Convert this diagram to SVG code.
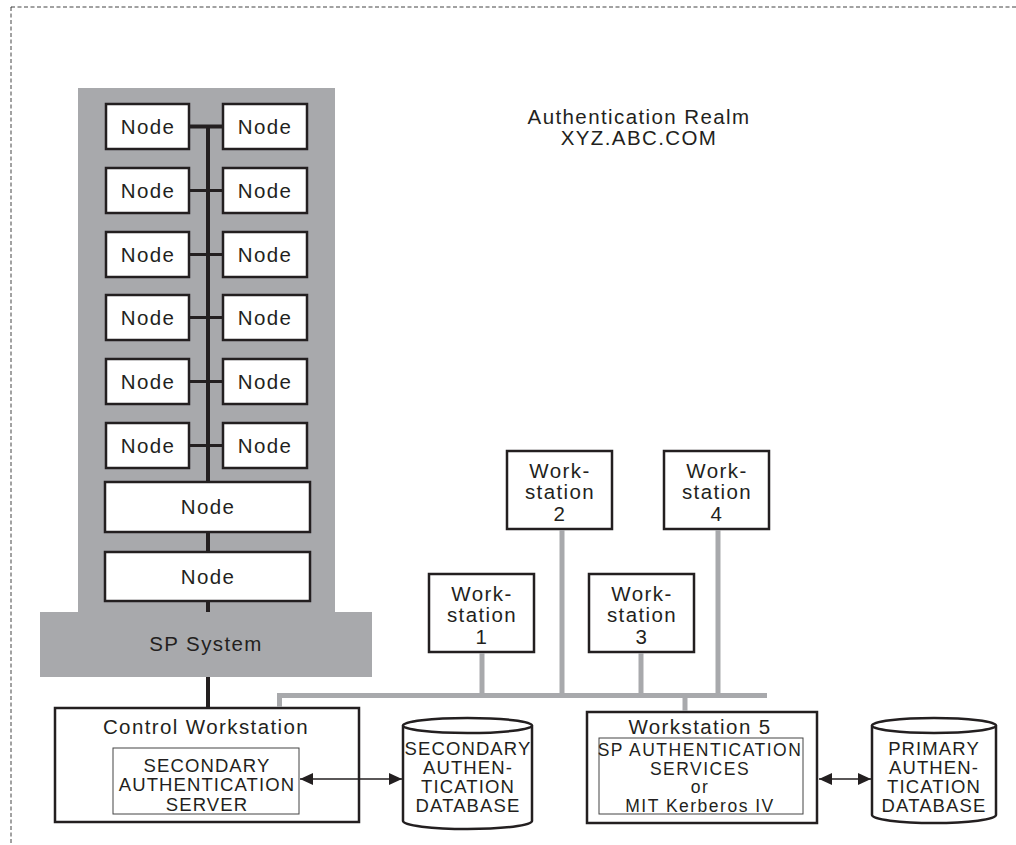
<svg xmlns="http://www.w3.org/2000/svg" width="1016" height="845" viewBox="0 0 1016 845">
<style>
.bx{fill:#fff;stroke:#231f20;stroke-width:2.5}
.ib{fill:#fff;stroke:#444;stroke-width:1}
.t{font-family:"Liberation Sans",Arial,sans-serif;font-size:20.5px;letter-spacing:1.4px;fill:#231f20;text-anchor:middle}
.s{font-family:"Liberation Sans",Arial,sans-serif;font-size:18.5px;letter-spacing:1.1px;fill:#231f20;text-anchor:middle}
.s2{font-family:"Liberation Sans",Arial,sans-serif;font-size:17.5px;letter-spacing:1.5px;fill:#231f20;text-anchor:middle}
.bk{stroke:#231f20;stroke-width:4;fill:none}
.bh{stroke:#231f20;stroke-width:3;fill:none}
.gr{stroke:#a8a9ac;stroke-width:5;fill:none}
.ar{stroke:#231f20;stroke-width:1.3;fill:none;marker-start:url(#ah);marker-end:url(#ah)}
.cy{fill:#fff;stroke:#231f20;stroke-width:2.5}
</style>
<defs>
<marker id="ah" viewBox="0 0 13 12" refX="13" refY="6" markerWidth="13" markerHeight="12" markerUnits="userSpaceOnUse" orient="auto-start-reverse">
<path d="M0,0 L13,6 L0,12 Z" fill="#231f20"/>
</marker>
</defs>
<rect x="11" y="7" width="1030" height="870" fill="none" stroke="#444" stroke-width="1" stroke-dasharray="4,2.5"/>

<g id="realm-label">
<text class="t" x="639" y="124">Authentication Realm</text>
<text class="t" x="639" y="145">XYZ.ABC.COM</text>
</g>

<g id="sp-system">
<rect x="78" y="88" width="257" height="530" fill="#a8a9ac"/>
<rect x="40" y="612" width="332" height="65" fill="#a8a9ac"/>
<text class="t" x="206" y="651">SP System</text>
</g>

<g id="node-1-l"><rect class="bx" x="106" y="104" width="83" height="45"/><text class="t" x="148" y="134">Node</text></g>
<g id="node-1-r"><rect class="bx" x="223" y="104" width="84" height="45"/><text class="t" x="265" y="134">Node</text></g>
<g id="node-2-l"><rect class="bx" x="106" y="168" width="83" height="45"/><text class="t" x="148" y="198">Node</text></g>
<g id="node-2-r"><rect class="bx" x="223" y="168" width="84" height="45"/><text class="t" x="265" y="198">Node</text></g>
<g id="node-3-l"><rect class="bx" x="106" y="232" width="83" height="45"/><text class="t" x="148" y="262">Node</text></g>
<g id="node-3-r"><rect class="bx" x="223" y="232" width="84" height="45"/><text class="t" x="265" y="262">Node</text></g>
<g id="node-4-l"><rect class="bx" x="106" y="295" width="83" height="45"/><text class="t" x="148" y="325">Node</text></g>
<g id="node-4-r"><rect class="bx" x="223" y="295" width="84" height="45"/><text class="t" x="265" y="325">Node</text></g>
<g id="node-5-l"><rect class="bx" x="106" y="359" width="83" height="45"/><text class="t" x="148" y="389">Node</text></g>
<g id="node-5-r"><rect class="bx" x="223" y="359" width="84" height="45"/><text class="t" x="265" y="389">Node</text></g>
<g id="node-6-l"><rect class="bx" x="106" y="423" width="83" height="45"/><text class="t" x="148" y="453">Node</text></g>
<g id="node-6-r"><rect class="bx" x="223" y="423" width="84" height="45"/><text class="t" x="265" y="453">Node</text></g>
<g id="node-wide-1"><rect class="bx" x="105" y="482" width="205" height="50"/><text class="t" x="208" y="514">Node</text></g>
<g id="node-wide-2"><rect class="bx" x="105" y="552" width="205" height="49"/><text class="t" x="208" y="584">Node</text></g>

<g id="ws1"><rect class="bx" x="429" y="574" width="105" height="78"/>
<text class="t" x="482" y="601">Work-</text><text class="t" x="482" y="622">station</text><text class="t" x="482" y="644">1</text></g>
<g id="ws2"><rect class="bx" x="507" y="451" width="105" height="78"/>
<text class="t" x="560" y="478">Work-</text><text class="t" x="560" y="499">station</text><text class="t" x="560" y="521">2</text></g>
<g id="ws3"><rect class="bx" x="589" y="574" width="105" height="78"/>
<text class="t" x="642" y="601">Work-</text><text class="t" x="642" y="622">station</text><text class="t" x="642" y="644">3</text></g>
<g id="ws4"><rect class="bx" x="664" y="451" width="105" height="78"/>
<text class="t" x="717" y="478">Work-</text><text class="t" x="717" y="499">station</text><text class="t" x="717" y="521">4</text></g>

<g id="control-workstation">
<rect class="bx" x="55" y="708" width="304" height="114"/>
<text class="t" x="206" y="734">Control Workstation</text>
<rect class="ib" x="113" y="748" width="186" height="66"/>
<text class="s" x="207" y="772">SECONDARY</text>
<text class="s" x="207" y="791">AUTHENTICATION</text>
<text class="s" x="207" y="811">SERVER</text>
</g>

<g id="secondary-db">
<path class="cy" d="M403,725.5 L403,821 A64.5,8 0 0 0 532,821 L532,725.5"/>
<ellipse class="cy" cx="467.5" cy="725.5" rx="64.5" ry="7.5"/>
<text class="s" x="468" y="755">SECONDARY</text>
<text class="s" x="468" y="774">AUTHEN-</text>
<text class="s" x="468" y="793">TICATION</text>
<text class="s" x="468" y="812">DATABASE</text>
</g>

<g id="workstation-5">
<rect class="bx" x="587" y="712" width="230" height="111"/>
<text class="t" x="700" y="734">Workstation 5</text>
<rect class="ib" x="599" y="738" width="204" height="76"/>
<text class="s2" x="700" y="756">SP AUTHENTICATION</text>
<text class="s2" x="700" y="775">SERVICES</text>
<text class="s2" x="700" y="793">or</text>
<text class="s2" x="700" y="812">MIT Kerberos IV</text>
</g>

<g id="primary-db">
<path class="cy" d="M872,725.5 L872,815 A62,8 0 0 0 996,815 L996,725.5"/>
<ellipse class="cy" cx="934" cy="725.5" rx="62" ry="7.5"/>
<text class="s" x="934" y="755">PRIMARY</text>
<text class="s" x="934" y="774">AUTHEN-</text>
<text class="s" x="934" y="793">TICATION</text>
<text class="s" x="934" y="812">DATABASE</text>
</g>

<g id="connectors">
<line class="bk" x1="208" y1="126" x2="208" y2="481"/>
<line class="bk" x1="208" y1="533" x2="208" y2="551"/>
<line class="bk" x1="208" y1="602" x2="208" y2="612"/>
<line class="bk" x1="190" y1="126.5" x2="222" y2="126.5"/>
<line class="bh" x1="190" y1="190.5" x2="222" y2="190.5"/>
<line class="bh" x1="190" y1="254.5" x2="222" y2="254.5"/>
<line class="bh" x1="190" y1="317.5" x2="222" y2="317.5"/>
<line class="bh" x1="190" y1="381.5" x2="222" y2="381.5"/>
<line class="bh" x1="190" y1="445.5" x2="222" y2="445.5"/>
<line class="bk" x1="208" y1="677" x2="208" y2="707"/>
<polyline class="gr" points="279.5,707 279.5,695.5 767,695.5"/>
<line class="gr" x1="482" y1="653" x2="482" y2="695"/>
<line class="gr" x1="562" y1="530" x2="562" y2="695"/>
<line class="gr" x1="641" y1="653" x2="641" y2="695"/>
<line class="gr" x1="718" y1="530" x2="718" y2="695"/>
<line class="gr" x1="685" y1="695" x2="685" y2="711"/>
<line class="ar" x1="300" y1="779" x2="402" y2="779"/>
<line class="ar" x1="819" y1="779" x2="871" y2="779"/>
</g>
</svg>
